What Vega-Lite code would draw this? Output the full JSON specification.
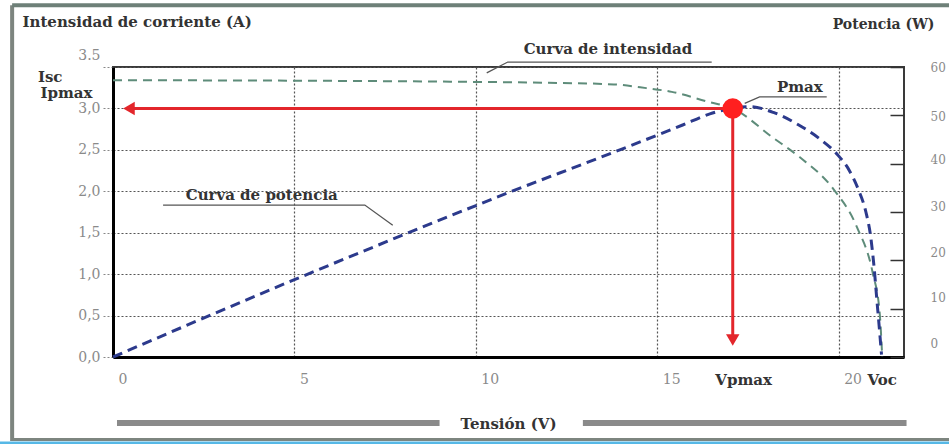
{
  "$schema": "https://vega.github.io/schema/vega-lite/v6.json",
  "width": 791,
  "height": 290,
  "autosize": "none",
  "padding": {"left": 113, "top": 67, "right": 45, "bottom": 87},
  "background": "white",
  "config": {"view": {"stroke": "#3a3a3a", "strokeWidth": 2}, "font": "DejaVu Serif"},
  "datasets": {
    "current": [
      {"V": 0, "I": 3.34}, {"V": 5, "I": 3.335}, {"V": 10, "I": 3.32}, {"V": 12, "I": 3.31},
      {"V": 13.8, "I": 3.29}, {"V": 14.7, "I": 3.245}, {"V": 15.4, "I": 3.2}, {"V": 16.4, "I": 3.08},
      {"V": 17.08, "I": 3.0}, {"V": 18.18, "I": 2.65}, {"V": 18.93, "I": 2.41}, {"V": 19.83, "I": 2.04},
      {"V": 20.5, "I": 1.57}, {"V": 20.94, "I": 1.01}, {"V": 21.13, "I": 0.53}, {"V": 21.2, "I": 0}
    ],
    "power": [
      {"V": 0, "P": 0}, {"V": 5, "P": 16}, {"V": 8.8, "P": 27.7}, {"V": 11, "P": 34.3},
      {"V": 13.4, "P": 41.2}, {"V": 15, "P": 45.9}, {"V": 15.7, "P": 48}, {"V": 16.45, "P": 50.3},
      {"V": 17.1, "P": 51.5}, {"V": 17.55, "P": 51.8}, {"V": 18.2, "P": 50.6}, {"V": 18.9, "P": 48},
      {"V": 19.5, "P": 45}, {"V": 19.95, "P": 42}, {"V": 20.3, "P": 38.5}, {"V": 20.55, "P": 34.5},
      {"V": 20.75, "P": 30}, {"V": 20.88, "P": 25}, {"V": 20.97, "P": 19}, {"V": 21.05, "P": 12},
      {"V": 21.12, "P": 6}, {"V": 21.18, "P": 0.5}
    ],
    "leaders": [
      {"id": "int", "k": 0, "V": 10.3, "I": 3.43}, {"id": "int", "k": 1, "V": 10.88, "I": 3.56}, {"id": "int", "k": 2, "V": 16.5, "I": 3.56},
      {"id": "pot", "k": 0, "V": 1.38, "I": 1.834}, {"id": "pot", "k": 1, "V": 6.94, "I": 1.834}, {"id": "pot", "k": 2, "V": 7.71, "I": 1.59},
      {"id": "pmax", "k": 0, "V": 17.41, "I": 3.06}, {"id": "pmax", "k": 1, "V": 17.82, "I": 3.14}, {"id": "pmax", "k": 2, "V": 19.67, "I": 3.14}
    ],
    "arrows": [
      {"id": "h", "V": 17.08, "I": 3.0}, {"id": "h", "V": 0.5, "I": 3.0},
      {"id": "v", "V": 17.08, "I": 3.0}, {"id": "v", "V": 17.08, "I": 0.25}
    ],
    "heads": [
      {"dir": "left", "V": 0.44, "I": 3.0}, {"dir": "down", "V": 17.08, "I": 0.205}
    ],
    "labels": [
      {"text": "Curva de intensidad", "V": 13.64, "I": 3.715},
      {"text": "Curva de potencia", "V": 4.1, "I": 1.954},
      {"text": "Pmax", "V": 18.93, "I": 3.26},
      {"text": "Vpmax", "V": 17.38, "I": -0.277},
      {"text": "Voc", "V": 21.2, "I": -0.277}
    ],
    "leftlabels": [
      {"text": "Isc", "V": -2.07, "I": 3.378},
      {"text": "Ipmax", "V": -2.0, "I": 3.185}
    ]
  },
  "encoding": {
    "x": {
      "field": "V", "type": "quantitative",
      "scale": {"domain": [0, 21.8], "nice": false, "zero": false},
      "axis": {
        "title": "Tensión (V)", "values": [0, 5, 10, 15, 20],
        "grid": true, "gridDash": [2, 2], "gridColor": "#555", "gridWidth": 1.2,
        "ticks": false, "labelPadding": 15, "labelAlign": "left", "labelOffset": 5,
        "labelFont": "DejaVu Serif", "labelFontSize": 14, "labelColor": "#8a8a8a",
        "domainColor": "#000", "domainWidth": 3,
        "titleFont": "DejaVu Serif", "titleFontWeight": "bold", "titleFontSize": 15, "titleColor": "#333",
        "titleX": 395, "titleY": 71, "titleBaseline": "alphabetic", "titleAlign": "center"
      }
    },
    "y": {
      "field": "I", "type": "quantitative",
      "scale": {"domain": [0, 3.5], "nice": false, "zero": false},
      "axis": {
        "title": "Intensidad de corriente (A)", "values": [0, 0.5, 1, 1.5, 2, 2.5, 3, 3.5],
        "labelExpr": "datum.value == 3.5 ? '3.5' : replace(format(datum.value, '.1f'), '.', ',')",
        "grid": true, "gridDash": [2, 2], "gridColor": "#555", "gridWidth": 1.2,
        "tickSize": 10, "tickDash": [2, 2], "tickColor": "#888", "labelPadding": 3,
        "labelOffset": {"condition": {"test": "datum.value == 3.5", "value": -12}, "value": 0},
        "labelFont": "DejaVu Serif", "labelFontSize": 14, "labelColor": "#8a8a8a",
        "domainColor": "#000", "domainWidth": 3,
        "titleFont": "DejaVu Serif", "titleFontWeight": "bold", "titleFontSize": 15, "titleColor": "#333",
        "titleAngle": 0, "titleAlign": "left", "titleX": -91, "titleY": -41, "titleBaseline": "alphabetic"
      }
    }
  },
  "layer": [
    {
      "layer": [
        {
          "data": {"values": [{"V": -2.78, "I": 4.246, "I2": -1.013}]},
          "mark": {"type": "rule", "color": "#7d857f", "strokeWidth": 4, "clip": false},
          "encoding": {"y2": {"field": "I2"}}
        },
        {
          "data": {"values": [{"V": -2.78, "V2": 23.2, "I": 4.246}]},
          "mark": {"type": "rule", "color": "#6e8078", "strokeWidth": 4, "clip": false},
          "encoding": {"x2": {"field": "V2"}}
        },
        {
          "data": {"values": [{"V": -2.78, "V2": 23.2, "I": -0.995}]},
          "mark": {"type": "rule", "color": "#7d857f", "strokeWidth": 3, "clip": false},
          "encoding": {"x2": {"field": "V2"}}
        },
        {
          "data": {"values": [{"V": -3.2, "V2": 23.2, "I": -1.037}]},
          "mark": {"type": "rule", "color": "#56b8e6", "strokeWidth": 3, "clip": false},
          "encoding": {"x2": {"field": "V2"}}
        },
        {
          "data": {"values": [{"V": 0.11, "V2": 9.0, "I": -0.796}, {"V": 12.95, "V2": 21.87, "I": -0.796}]},
          "mark": {"type": "rule", "color": "#8a8a8a", "strokeWidth": 6, "clip": false},
          "encoding": {"x2": {"field": "V2"}}
        },
        {
          "data": {"name": "current"},
          "mark": {"type": "line", "color": "#5e8c7a", "strokeWidth": 2, "strokeDash": [9, 6], "interpolate": "monotone"}
        }
      ]
    },
    {
      "data": {"name": "power"},
      "mark": {"type": "line", "color": "#2c3a8c", "strokeWidth": 3, "strokeDash": [10, 6], "interpolate": "monotone"},
      "encoding": {
        "y": {
          "field": "P", "type": "quantitative",
          "scale": {"domain": [0, 60], "nice": false, "zero": false},
          "axis": {
            "orient": "right", "title": "Potencia (W)", "values": [0, 10, 20, 30, 40, 50, 60],
            "grid": false, "domain": false,
            "tickSize": -14, "tickColor": "#333", "tickWidth": 1.5, "labelPadding": 40,
            "labelOffset": {"condition": [
              {"test": "datum.value == 0", "value": -14},
              {"test": "datum.value == 10", "value": -11},
              {"test": "datum.value == 20", "value": -8},
              {"test": "datum.value == 30", "value": -6},
              {"test": "datum.value == 40", "value": -4},
              {"test": "datum.value == 50", "value": 1}
            ], "value": 0},
            "labelFont": "DejaVu Serif", "labelFontSize": 12, "labelColor": "#8a8a8a", "labelAlign": "left",
            "titleFont": "DejaVu Serif", "titleFontWeight": "bold", "titleFontSize": 14, "titleColor": "#333",
            "titleAngle": 0, "titleAlign": "right", "titleX": 30, "titleY": -39, "titleBaseline": "alphabetic"
          }
        }
      }
    },
    {
      "encoding": {
        "y": {"field": "I", "type": "quantitative", "scale": {"domain": [0, 3.5], "nice": false, "zero": false}, "axis": null}
      },
      "layer": [
        {
          "data": {"name": "leaders"},
          "mark": {"type": "line", "color": "#555", "strokeWidth": 1.3, "clip": false},
          "encoding": {"detail": {"field": "id"}, "order": {"field": "k", "type": "quantitative"}}
        },
        {
          "data": {"name": "arrows"},
          "mark": {"type": "line", "color": "#e3262b", "strokeWidth": 3},
          "encoding": {"detail": {"field": "id"}}
        },
        {
          "data": {"name": "heads"},
          "mark": {"type": "point", "filled": true, "color": "#e3262b", "size": 180, "opacity": 1},
          "encoding": {
            "shape": {"field": "dir", "type": "nominal", "scale": {"domain": ["left", "down"], "range": ["triangle-left", "triangle-down"]}, "legend": null}
          }
        },
        {
          "data": {"values": [{"V": 17.08, "I": 3.0}]},
          "mark": {"type": "circle", "color": "#ff1f1f", "size": 420, "opacity": 1}
        },
        {
          "data": {"name": "labels"},
          "mark": {"type": "text", "font": "DejaVu Serif", "fontWeight": "bold", "fontSize": 15, "color": "#333", "align": "center", "baseline": "middle", "clip": false},
          "encoding": {"text": {"field": "text"}}
        },
        {
          "data": {"name": "leftlabels"},
          "mark": {"type": "text", "font": "DejaVu Serif", "fontWeight": "bold", "fontSize": 15, "color": "#333", "align": "left", "baseline": "middle", "clip": false},
          "encoding": {"text": {"field": "text"}}
        }
      ]
    }
  ],
  "resolve": {"scale": {"y": "independent"}, "axis": {"y": "independent"}}
}
